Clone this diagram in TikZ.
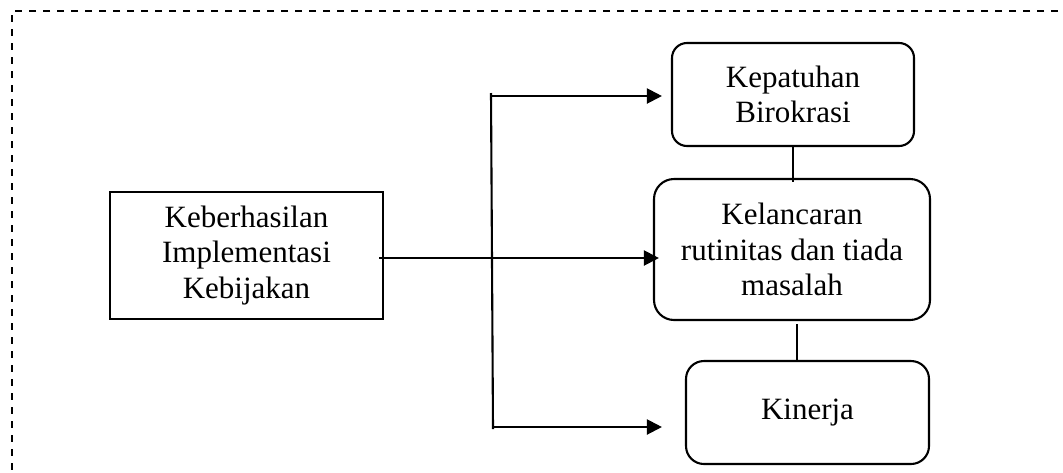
\documentclass[tikz,border=0pt]{standalone}
\usepackage{fontspec}
\setmainfont{Liberation Serif}
\usetikzlibrary{arrows.meta,calc}
\begin{document}
\begin{tikzpicture}[x=1pt,y=-1pt,
  lbl/.style={font=\fontsize{31}{35.5}\selectfont, align=center, inner sep=0pt},
  plainbox/.style={draw, line width=2.1pt, lbl},
  roundbox/.style={draw, line width=2.1pt, rounded corners=#1, lbl},
  link/.style={line width=2.1pt},
  arr/.style={line width=2.1pt, -{Triangle[length=15pt,width=15pt]}},
  frame/.style={line width=1.6pt, dash pattern=on 7pt off 7pt}
]
\useasboundingbox (0,0) rectangle (1063,472);

% open dashed frame (top and left edges)
\coordinate (fA) at (1058,11);
\coordinate (fB) at (12,11);
\coordinate (fC) at (12,480);
\draw[frame] (fA) -- (fB) -- (fC);

% source box
\node[plainbox, minimum width=273pt, minimum height=127pt] (kb) at (246.5,255.5)
  {Keberhasilan\\Implementasi\\Kebijakan};

% outcome boxes
\node[roundbox=15pt, minimum width=242pt, minimum height=103pt] (b1) at (793,94.5)
  {Kepatuhan\\Birokrasi};
\node[roundbox=20pt, minimum width=276pt, minimum height=141pt] (b2) at (792,249.5)
  {Kelancaran\\rutinitas dan tiada\\masalah};
\node[roundbox=18pt, minimum width=243pt, minimum height=103pt] (b3) at (807.5,412.5)
  {Kinerja};

% vertical links between outcome boxes
\draw[link] (b1.south) -- ($(b1.south |- b2.north)+(0,4)$);
\draw[link] ($(b2.south)+(5,3)$) -- ($(b2.south |- b3.north)+(5,0)$);

% distribution trunk
\coordinate (tTop) at (491,93);
\coordinate (tBot) at (493,429);
\draw[link] (tTop) -- (tBot);

% arrows into the outcome boxes
\coordinate (a1) at (491,96);
\coordinate (a3) at (493,427);
\draw[arr, shorten >=9pt] (a1) -- (a1 -| b1.west);
\draw[arr] ($(kb.east)+(-5,2.5)$) -- ($(kb.east -| b2.west)+(6,2.5)$);
\draw[arr, shorten >=23pt] (a3) -- (a3 -| b3.west);
\end{tikzpicture}
\end{document}
